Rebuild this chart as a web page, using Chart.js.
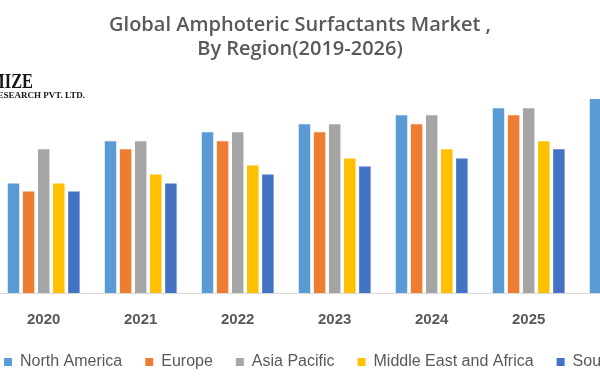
<!DOCTYPE html>
<html><head><meta charset="utf-8">
<script src="https://cdn.jsdelivr.net/npm/chart.js@4"></script>
<style>
html,body{margin:0;padding:0;background:#fff;overflow:hidden;}
#frame{position:relative;width:600px;height:380px;overflow:hidden;background:#fff;}
#wrap{position:absolute;left:-19px;top:0;width:730px;height:380px;}
</style></head>
<body><div id="frame"><div id="wrap"><canvas id="c" width="730" height="380"></canvas></div></div>
<script>
// ---- data (2026 values beyond NA are hidden by the crop and estimated) ----
const categories = ['2020', '2021', '2022', '2023', '2024', '2025', '2026'];
const seriesNames = ['North America', 'Europe', 'Asia Pacific', 'Middle East and Africa', 'South America'];
const northAmerica     = [1.09, 1.51, 1.60, 1.68, 1.77, 1.84, 1.93];
const europe           = [1.01, 1.43, 1.51, 1.60, 1.68, 1.77, 1.84];
const asiaPacific      = [1.43, 1.51, 1.60, 1.68, 1.77, 1.84, 1.93];
const middleEastAfrica = [1.09, 1.18, 1.27, 1.34, 1.43, 1.51, 1.60];
const southAmerica     = [1.01, 1.09, 1.18, 1.26, 1.34, 1.43, 1.51];
const titleLines = ['Global Amphoteric Surfactants Market ,', 'By Region(2019-2026)'];
const logoLines = ['MAXIMIZE', 'MARKET RESEARCH PVT. LTD.'];

const colors = ['#5B9BD5', '#ED7D31', '#A5A5A5', '#FFC000', '#4472C4'];
const seriesValues = [northAmerica, europe, asiaPacific, middleEastAfrica, southAmerica];

const logoPlugin = {
  id: 'logo',
  afterDraw(chart) {
    const ctx = chart.ctx;
    const left = chart.chartArea.left;
    ctx.save();
    ctx.fillStyle = '#151515';
    ctx.textAlign = 'right';
    ctx.textBaseline = 'alphabetic';
    ctx.save();
    ctx.translate(left + 52, 88);
    ctx.scale(0.78, 1);
    ctx.font = 'bold 21px "Liberation Serif", serif';
    ctx.fillText(logoLines[0], 0, 0);
    ctx.restore();
    ctx.font = 'bold 9px "Liberation Serif", serif';
    ctx.fillText(logoLines[1], left + 104, 98);
    ctx.restore();
  }
};

new Chart(document.getElementById('c'), {
  type: 'bar',
  data: {
    datasets: seriesNames.map((name, k) => ({
      label: name,
      data: seriesValues[k].map((v, i) => ({x: i, y: v})),
      backgroundColor: colors[k],
      borderWidth: 0,
      clip: false
    }))
  },
  options: {
    responsive: false,
    animation: false,
    devicePixelRatio: 1,
    layout: {padding: 0},
    datasets: {bar: {categoryPercentage: 0.778, barPercentage: 0.76}},
    scales: {
      x: {
        type: 'linear', position: 'bottom', bounds: 'data', offset: false,
        min: -0.6464, max: 5.931,
        grid: {display: false, drawTicks: false, offset: false},
        border: {display: true, color: '#d9d9d9', width: 1},
        ticks: {
          autoSkip: false, maxRotation: 0, minRotation: 0,
          padding: 18, color: '#595959',
          font: {family: '"Liberation Sans", Arial, sans-serif', size: 15, weight: 'bold'},
          callback: v => categories[v] ?? ''
        },
        afterBuildTicks: s => {
          s.ticks = categories.map((c, i) => ({value: i})).filter(t => t.value >= s.min && t.value <= s.max);
        },
        afterFit: s => { s.height = 38; }
      },
      y: {display: false, min: 0, max: 2.20},
      yPad: {
        type: 'linear', position: 'right', display: true,
        grid: {display: false}, border: {display: false}, ticks: {display: false},
        afterFit: s => { s.width = 92; }
      }
    },
    plugins: {
      title: {
        display: true, fullSize: false, text: titleLines,
        color: '#595959',
        font: {family: '"Open Sans", sans-serif', size: 20, weight: '600', lineHeight: '24px'},
        padding: {top: 13, bottom: 11}
      },
      legend: {
        position: 'bottom', align: 'start',
        labels: {
          boxWidth: 8, boxHeight: 8, padding: 23, color: '#595959',
          font: {family: '"Liberation Sans", Arial, sans-serif', size: 16}
        }
      },
      tooltip: {enabled: false}
    }
  },
  plugins: [logoPlugin]
});
</script>
</body></html>
